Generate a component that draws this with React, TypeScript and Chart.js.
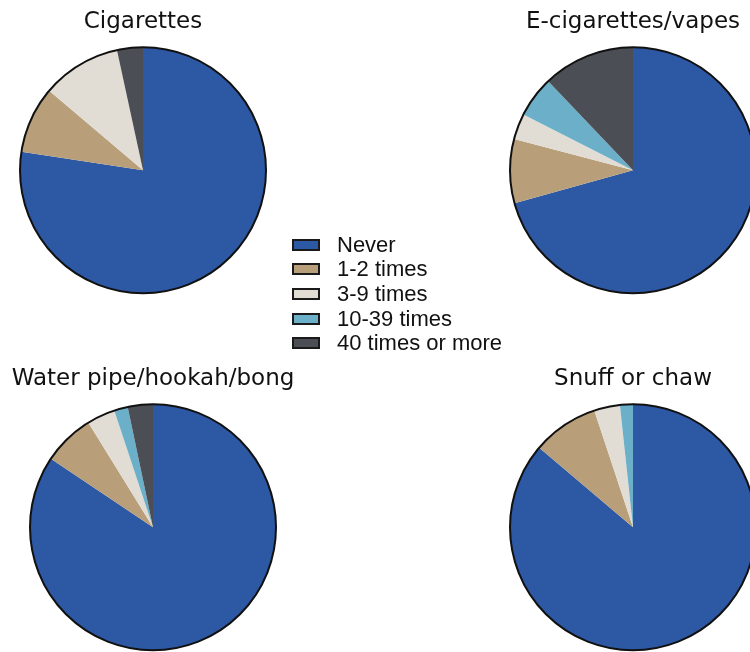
import React, { useEffect, useRef } from "react";
import { Chart, registerables } from "chart.js";

Chart.register(...registerables);

// Frequency categories shared by every pie
const categories = ["Never", "1-2 times", "3-9 times", "10-39 times", "40 times or more"];
const sliceColors = ["#2D58A4", "#B89F79", "#E1DDD4", "#6BAFC8", "#4B4E55"];

// Percent of respondents per category, in the order of `categories`
const cigarettes = [77.4, 8.8, 10.4, 0, 3.4];
const eCigarettes = [70.7, 8.4, 3.4, 5.4, 12.1];
const waterPipe = [84.4, 6.8, 3.7, 1.8, 3.3];
const snuff = [86.2, 8.7, 3.4, 1.7, 0];

const titleFont = '"Comic Sans MS", "DejaVu Sans", sans-serif';
const legendFont = '"Liberation Sans", Arial, sans-serif';

const CANVAS_W = 300;
const CANVAS_H = 295;

// Strokes only the outer rim of the pie, leaving slice edges unlined
const rimOutline = {
  id: "rimOutline",
  afterDatasetsDraw(chart: any) {
    const arc = chart.getDatasetMeta(0).data[0];
    if (!arc) return;
    const { x, y, outerRadius } = arc.getProps(["x", "y", "outerRadius"], true);
    const ctx = chart.ctx;
    ctx.save();
    ctx.beginPath();
    ctx.arc(x, y, outerRadius, 0, Math.PI * 2);
    ctx.lineWidth = 2;
    ctx.strokeStyle = "#111111";
    ctx.stroke();
    ctx.restore();
  },
};

type PieProps = { title: string; values: number[]; centerX: number; top: number };

function PieChart({ title, values, centerX, top }: PieProps) {
  const ref = useRef<HTMLCanvasElement | null>(null);

  useEffect(() => {
    if (!ref.current) return;
    const chart = new Chart(ref.current, {
      type: "pie",
      data: {
        labels: categories,
        datasets: [
          {
            data: values,
            backgroundColor: sliceColors,
            borderWidth: 0,
          },
        ],
      },
      options: {
        responsive: false,
        animation: false,
        radius: 123,
        layout: { padding: 0 },
        plugins: {
          legend: { display: false },
          tooltip: { enabled: false },
          title: {
            display: true,
            text: title,
            color: "#111111",
            font: { family: titleFont, size: 23, weight: "normal" },
            padding: { top: 8, bottom: 10 },
          },
        },
      } as any,
      plugins: [rimOutline],
    });
    return () => chart.destroy();
  }, [title, values]);

  return (
    <canvas
      ref={ref}
      width={CANVAS_W}
      height={CANVAS_H}
      style={{
        position: "absolute",
        left: centerX - CANVAS_W / 2,
        top,
        width: CANVAS_W,
        height: CANVAS_H,
      }}
    />
  );
}

function Legend() {
  return (
    <div style={{ position: "absolute", left: 292, top: 0 }}>
      {categories.map((name, i) => (
        <div
          key={name}
          style={{
            position: "absolute",
            left: 0,
            top: 232.7 + 24.6 * i,
            height: 24,
            display: "flex",
            alignItems: "center",
            whiteSpace: "nowrap",
          }}
        >
          <div
            style={{
              width: 28,
              height: 12,
              boxSizing: "border-box",
              border: "2px solid #1a1a1a",
              background: sliceColors[i],
            }}
          />
          <span
            style={{
              marginLeft: 17,
              fontFamily: legendFont,
              fontSize: 22,
              lineHeight: "24px",
              color: "#111111",
            }}
          >
            {name}
          </span>
        </div>
      ))}
    </div>
  );
}

export default function App() {
  return (
    <div
      style={{
        position: "fixed",
        left: 0,
        top: 0,
        width: 750,
        height: 652,
        overflow: "hidden",
        background: "#ffffff",
      }}
    >
      <PieChart title="Cigarettes" values={cigarettes} centerX={143} top={0} />
      <PieChart title="E-cigarettes/vapes" values={eCigarettes} centerX={633} top={0} />
      <PieChart title="Water pipe/hookah/bong" values={waterPipe} centerX={153} top={357} />
      <PieChart title="Snuff or chaw" values={snuff} centerX={633} top={357} />
      <Legend />
    </div>
  );
}
